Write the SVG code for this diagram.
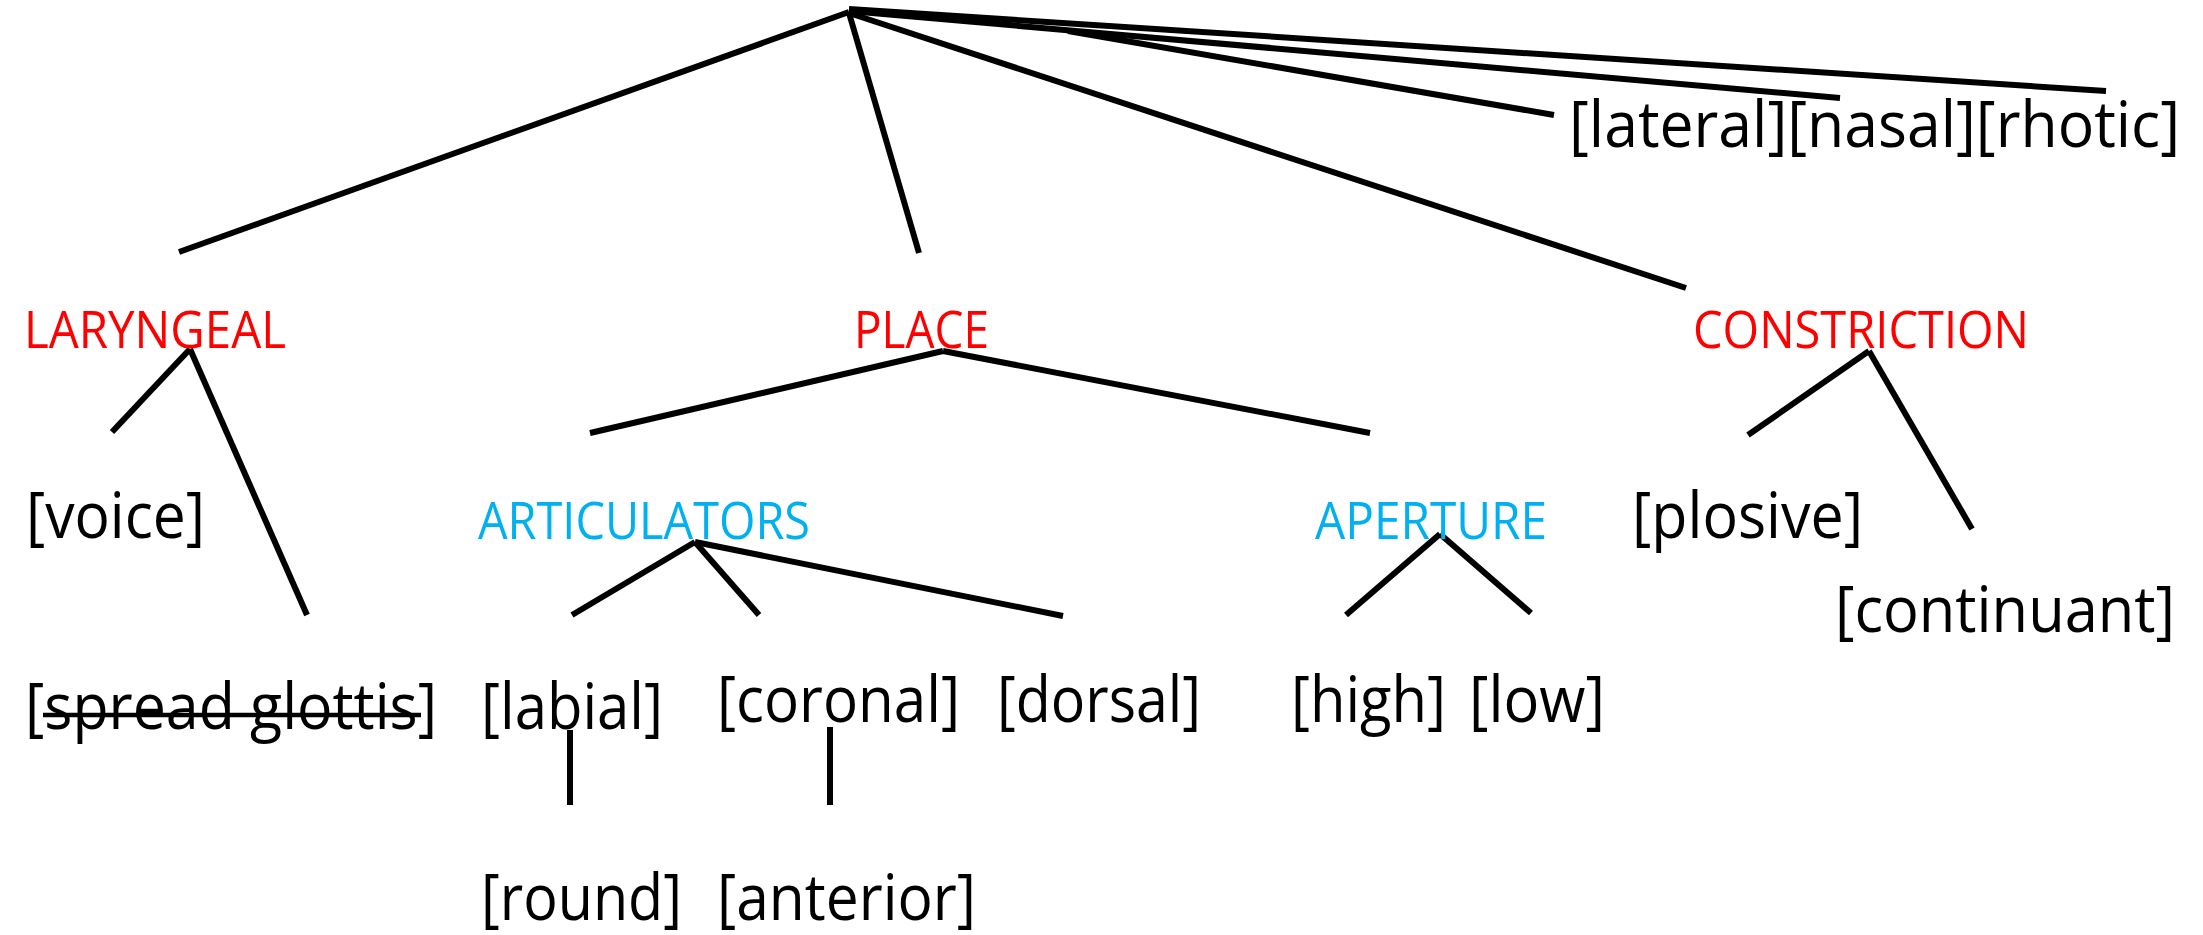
<svg xmlns="http://www.w3.org/2000/svg" width="2203" height="935" viewBox="0 0 2203 935">
<style>
.lbl{font-family:"Open Sans","Noto Sans",sans-serif;font-size:64px;fill:#000}
.red{font-family:"Open Sans","Noto Sans",sans-serif;font-size:51px;fill:#FF0000}
.blue{font-family:"Open Sans","Noto Sans",sans-serif;font-size:51px;fill:#00B0F0}
.edge{stroke:#000;stroke-width:6;fill:none;stroke-linecap:butt}
</style>
<rect width="2203" height="935" fill="#fff"/>
<g id="connectors" class="edge">
<line x1="849" y1="12" x2="179" y2="252"/>
<line x1="849" y1="13" x2="919" y2="253"/>
<line x1="849" y1="13" x2="1686" y2="288"/>
<line x1="849" y1="9" x2="2106" y2="91"/>
<line x1="849" y1="11" x2="1840" y2="98"/>
<line x1="1068" y1="31" x2="1554" y2="115"/>
<line x1="190" y1="349" x2="112" y2="432"/>
<line x1="190" y1="349" x2="307" y2="615"/>
<line x1="943" y1="351" x2="590" y2="433"/>
<line x1="943" y1="351" x2="1370" y2="433"/>
<line x1="1869" y1="351" x2="1748" y2="435"/>
<line x1="1869" y1="351" x2="1972" y2="529"/>
<line x1="695" y1="542" x2="572" y2="615"/>
<line x1="695" y1="542" x2="759" y2="615"/>
<line x1="695" y1="542" x2="1063" y2="616"/>
<line x1="1440" y1="534" x2="1346" y2="615"/>
<line x1="1440" y1="534" x2="1531" y2="613"/>
<line x1="570" y1="730" x2="570" y2="805"/>
<line x1="830" y1="727" x2="830" y2="805"/>
</g>
<g id="node-manner"><text class="lbl" x="1569" y="147" textLength="611" lengthAdjust="spacingAndGlyphs">[lateral][nasal][rhotic]</text></g>
<g id="node-laryngeal"><text class="red" x="24" y="348" textLength="262" lengthAdjust="spacingAndGlyphs">LARYNGEAL</text></g>
<g id="node-place"><text class="red" x="854" y="348" textLength="135" lengthAdjust="spacingAndGlyphs">PLACE</text></g>
<g id="node-constriction"><text class="red" x="1693" y="348" textLength="336" lengthAdjust="spacingAndGlyphs">CONSTRICTION</text></g>
<g id="node-voice"><text class="lbl" x="26" y="538" textLength="179" lengthAdjust="spacingAndGlyphs">[voice]</text></g>
<g id="node-articulators"><text class="blue" x="478" y="539" textLength="332" lengthAdjust="spacingAndGlyphs">ARTICULATORS</text></g>
<g id="node-aperture"><text class="blue" x="1315" y="539" textLength="232" lengthAdjust="spacingAndGlyphs">APERTURE</text></g>
<g id="node-plosive"><text class="lbl" x="1632" y="538" textLength="231" lengthAdjust="spacingAndGlyphs">[plosive]</text></g>
<g id="node-continuant"><text class="lbl" x="1835" y="632" textLength="340" lengthAdjust="spacingAndGlyphs">[continuant]</text></g>
<g id="node-spread-glottis"><text class="lbl" x="25" y="729" textLength="412" lengthAdjust="spacingAndGlyphs">[spread glottis]</text><line x1="43" y1="715" x2="421" y2="715" stroke="#000" stroke-width="4.5"/></g>
<g id="node-labial"><text class="lbl" x="481" y="729" textLength="182" lengthAdjust="spacingAndGlyphs">[labial]</text></g>
<g id="node-coronal"><text class="lbl" x="717" y="722" textLength="243" lengthAdjust="spacingAndGlyphs">[coronal]</text></g>
<g id="node-dorsal"><text class="lbl" x="997" y="722" textLength="204" lengthAdjust="spacingAndGlyphs">[dorsal]</text></g>
<g id="node-high"><text class="lbl" x="1291" y="722" textLength="155" lengthAdjust="spacingAndGlyphs">[high]</text></g>
<g id="node-low"><text class="lbl" x="1469" y="722" textLength="136" lengthAdjust="spacingAndGlyphs">[low]</text></g>
<g id="node-round"><text class="lbl" x="481" y="920" textLength="201" lengthAdjust="spacingAndGlyphs">[round]</text></g>
<g id="node-anterior"><text class="lbl" x="717" y="920" textLength="259" lengthAdjust="spacingAndGlyphs">[anterior]</text></g>
</svg>
